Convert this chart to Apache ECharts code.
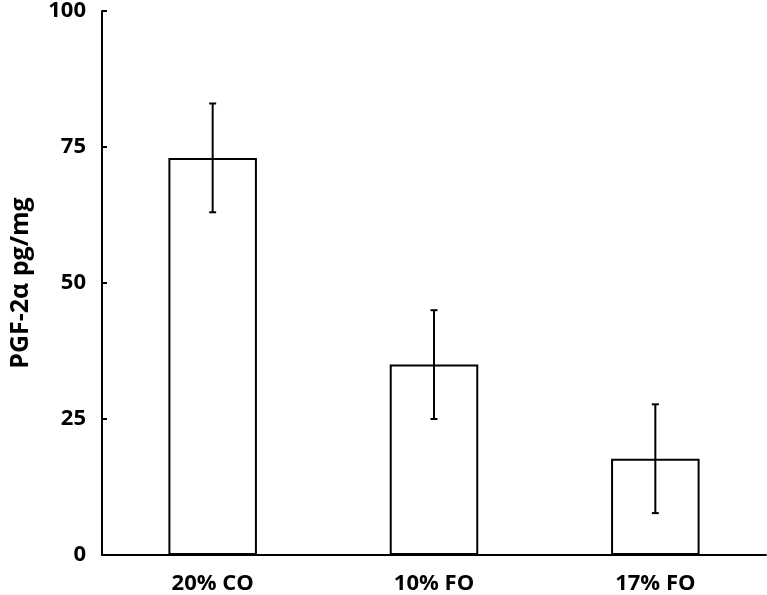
<!DOCTYPE html>
<html>
<head>
<meta charset="utf-8">
<script src="https://cdn.jsdelivr.net/npm/echarts@6/dist/echarts.min.js"></script>
<style>
html,body{margin:0;padding:0;background:#fff;}
#chart{width:767px;height:595px;}
</style>
</head>
<body>
<div id="chart"></div>
<script>
var categories = ['20% CO', '10% FO', '17% FO'];
var means = [73, 35, 17.7];
var errLow = [63, 25, 7.7];
var errHigh = [83, 45, 27.7];
var yTicks = [0, 25, 50, 75, 100];

var FONT = '"Open Sans", sans-serif';
var chart = echarts.init(document.getElementById('chart'));
var errData = categories.map(function (c, i) { return [i, errLow[i], errHigh[i]]; });

chart.setOption({
  animation: false,
  backgroundColor: '#fff',
  grid: { left: 100, right: 1, top: 11, bottom: 40, containLabel: false },
  xAxis: {
    type: 'category',
    data: categories,
    axisLine: { lineStyle: { color: '#000', width: 2 } },
    axisTick: { show: false },
    axisLabel: { color: '#000', fontFamily: FONT, fontWeight: 'bold', fontSize: 22, margin: 18 },
    splitLine: { show: false }
  },
  yAxis: {
    type: 'value',
    min: yTicks[0],
    max: yTicks[yTicks.length - 1],
    interval: 25,
    name: 'PGF-2\u03B1 pg/mg',
    nameLocation: 'middle',
    nameGap: 69,
    nameRotate: 90,
    nameTextStyle: { color: '#000', fontFamily: FONT, fontWeight: 'bold', fontSize: 25 },
    axisLine: { show: true, lineStyle: { color: '#000', width: 2 } },
    axisTick: { show: true, inside: true, length: 5, lineStyle: { color: '#000', width: 2 } },
    axisLabel: { color: '#000', fontFamily: FONT, fontWeight: 'bold', fontSize: 22, margin: 16 },
    splitLine: { show: false }
  },
  series: [
    {
      type: 'bar',
      data: means,
      barWidth: '40%',
      itemStyle: { color: '#fff', borderColor: '#000', borderWidth: 2 }
    },
    {
      type: 'custom',
      data: errData,
      z: 10,
      renderItem: function (params, api) {
        var x = api.value(0);
        var lo = api.coord([x, api.value(1)]);
        var hi = api.coord([x, api.value(2)]);
        var hw = 3.5;
        var style = { stroke: '#000', lineWidth: 2 };
        return {
          type: 'group',
          children: [
            { type: 'line', shape: { x1: hi[0], y1: hi[1], x2: lo[0], y2: lo[1] }, style: style },
            { type: 'line', shape: { x1: hi[0] - hw, y1: hi[1], x2: hi[0] + hw, y2: hi[1] }, style: style },
            { type: 'line', shape: { x1: lo[0] - hw, y1: lo[1], x2: lo[0] + hw, y2: lo[1] }, style: style }
          ]
        };
      }
    }
  ]
});
</script>
</body>
</html>
